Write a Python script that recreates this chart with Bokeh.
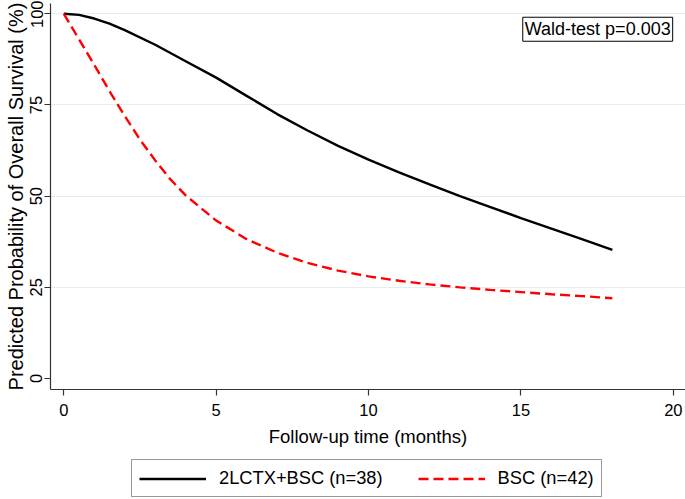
from bokeh.plotting import figure
from bokeh.layouts import column
from bokeh.models import Range1d, Legend, LegendItem, Label, FixedTicker
from bokeh.embed import file_html
from bokeh.resources import INLINE

# ---- data ----
t_ctx = [0, 0.5, 1, 1.5, 2, 3, 4, 5, 6, 7, 8, 9, 10, 11, 12, 13, 14, 15, 16, 17, 18]
s_ctx = [100, 99.7, 98.7, 97.3, 95.5, 91.5, 87, 82.5, 77.5, 72.5, 68, 63.8, 60, 56.5,
         53.2, 50, 47, 44, 41.1, 38.2, 35.3]
t_bsc = [0, 0.5, 1, 1.5, 2, 2.5, 3, 3.5, 4, 5, 6, 7, 8, 9, 10, 11, 12, 13, 14, 15, 16, 17, 18]
s_bsc = [100, 93, 86, 78.8, 72, 65.5, 59.8, 54.6, 50.2, 43.3, 38.2, 34.5, 31.7, 29.6, 28,
         26.8, 25.8, 25, 24.3, 23.7, 23.1, 22.6, 22]
x_ticks = [0, 5, 10, 15, 20]
y_ticks = [0, 25, 50, 75, 100]
grid_ticks = [25, 50, 75, 100]
label_ctx = "2LCTX+BSC (n=38)"
label_bsc = "BSC (n=42)"
note = "Wald-test p=0.003"
x_title = "Follow-up time (months)"
y_title = "Predicted Probability of Overall Survival (%)"

FONT = "Liberation Sans"
AX = "#333333"
RED = "#ff0000"

p = figure(width=685, height=449, output_backend="svg", toolbar_location=None,
           x_range=Range1d(-0.436, 20.40), y_range=Range1d(-3.01, 102.82),
           min_border_left=50, min_border_right=0, min_border_top=3,
           min_border_bottom=60)
p.outline_line_color = None
p.background_fill_color = "white"

r1 = p.line(t_ctx, s_ctx, line_color="black", line_width=2.4)
r2 = p.line(t_bsc, s_bsc, line_color=RED, line_width=2.4, line_dash="10 5")

p.xgrid.visible = False
p.ygrid.ticker = FixedTicker(ticks=grid_ticks)
p.ygrid.grid_line_color = "#e4edf1"
p.ygrid.grid_line_width = 1

for ax in (p.xaxis[0], p.yaxis[0]):
    ax.axis_line_color = AX
    ax.axis_line_width = 1.2
    ax.major_tick_line_color = AX
    ax.major_tick_line_width = 1.2
    ax.major_tick_in = 0
    ax.major_tick_out = 6
    ax.minor_tick_line_color = None
    ax.major_label_text_font = FONT
    ax.major_label_text_font_size = "16.5px"
    ax.major_label_text_color = "black"
    ax.axis_label_text_font = FONT
    ax.axis_label_text_font_style = "normal"
    ax.axis_label_text_color = "black"

p.xaxis.ticker = FixedTicker(ticks=x_ticks)
p.yaxis.ticker = FixedTicker(ticks=y_ticks)
p.xaxis.major_label_standoff = 8
p.xaxis.axis_label = x_title
p.xaxis.axis_label_text_font_size = "18.5px"
p.xaxis.axis_label_standoff = 7

p.yaxis.major_label_orientation = "vertical"
p.yaxis.major_label_standoff = 2
p.yaxis.axis_label = y_title
p.yaxis.axis_label_text_font_size = "20px"
p.yaxis.axis_label_standoff = 1

wald = Label(x=15.06, y=99.05, text=note, anchor="top_left", padding=2,
             border_line_color="black", border_line_width=1,
             background_fill_color="white", text_font=FONT,
             text_font_size="18px", text_color="black")
p.add_layout(wald)

# ---- legend strip below the chart (frame aligned with the chart's frame) ----
p2 = figure(width=685, height=50, output_backend="svg", toolbar_location=None,
            x_axis_type=None, y_axis_type=None, min_border=0,
            x_range=Range1d(0, 1), y_range=Range1d(0, 1))
p2.outline_line_color = None
p2.xgrid.visible = False
p2.ygrid.visible = False
k1 = p2.line([5, 6], [5, 6], line_color="black", line_width=2.4)
k2 = p2.line([5, 6], [5, 6], line_color=RED, line_width=2.4, line_dash="10 5")

legend = Legend(items=[LegendItem(label=label_ctx, renderers=[k1]),
                       LegendItem(label=label_bsc, renderers=[k2])],
                location=(81, 2), orientation="horizontal")
legend.border_line_color = AX
legend.border_line_width = 1
legend.background_fill_color = "white"
legend.label_text_font = FONT
legend.label_text_font_size = "18.3px"
legend.label_text_color = "black"
legend.glyph_width = 67
legend.glyph_height = 19
legend.label_height = 19
legend.label_standoff = 13
legend.spacing = 35
legend.padding = 7
legend.margin = 0
p2.add_layout(legend)

layout = column(p, p2, spacing=0)
open("out.html", "w").write(file_html(layout, INLINE))
